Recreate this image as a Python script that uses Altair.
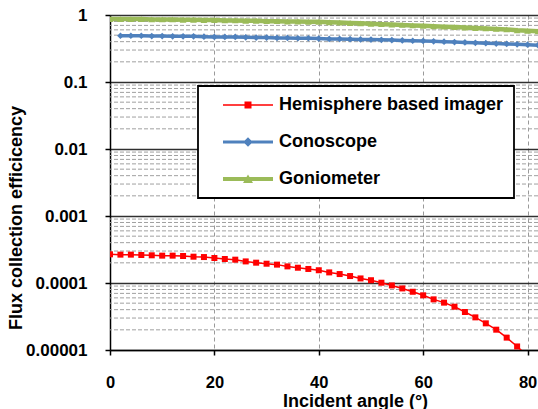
import altair as alt
import pandas as pd

# ---------------- data ----------------
series_names = ["Hemisphere based imager", "Conoscope", "Goniometer"]
series_colors = ["#ff0000", "#4f81bd", "#9bbb59"]

angles_red = list(range(0, 82, 2))          # 0 .. 80
hemisphere = [2.68e-4, 2.65e-4, 2.65e-4, 2.62e-4, 2.59e-4, 2.56e-4, 2.56e-4, 2.53e-4,
              2.47e-4, 2.44e-4, 2.36e-4, 2.28e-4, 2.23e-4, 2.10e-4, 2.01e-4, 1.94e-4,
              1.88e-4, 1.77e-4, 1.69e-4, 1.62e-4, 1.55e-4, 1.44e-4, 1.36e-4, 1.27e-4,
              1.17e-4, 1.10e-4, 1.01e-4, 0.92e-4, 0.83e-4, 0.74e-4, 0.655e-4, 0.570e-4,
              0.509e-4, 0.443e-4, 0.369e-4, 0.307e-4, 0.250e-4, 0.201e-4, 0.153e-4,
              0.113e-4, 0.081e-4]

angles_cono = list(range(2, 84, 2))         # 2 .. 82
conoscope = [0.49, 0.49, 0.49, 0.485, 0.485, 0.48, 0.48, 0.48, 0.475, 0.47,
             0.47, 0.47, 0.465, 0.46, 0.46, 0.455, 0.455, 0.45, 0.45, 0.445,
             0.44, 0.44, 0.435, 0.432, 0.43, 0.426, 0.422, 0.418, 0.413, 0.41,
             0.405, 0.40, 0.395, 0.39, 0.385, 0.38, 0.375, 0.37, 0.365, 0.36, 0.355]

angles_gonio = list(range(0, 84, 2))        # 0 .. 82
goniometer = [0.87, 0.87, 0.87, 0.87, 0.86, 0.86, 0.86, 0.85, 0.85, 0.84, 0.84,
              0.83, 0.83, 0.82, 0.82, 0.81, 0.81, 0.80, 0.80, 0.79, 0.79,
              0.78, 0.77, 0.76, 0.75, 0.74, 0.73, 0.72, 0.71, 0.70, 0.69,
              0.68, 0.67, 0.66, 0.65, 0.64, 0.63, 0.62, 0.61, 0.59, 0.58, 0.57]

x_ticks = [0, 20, 40, 60, 80]
y_tick_values = [1, 0.1, 0.01, 0.001, 0.0001, 0.00001]
y_tick_labels = ["1", "0.1", "0.01", "0.001", "0.0001", "0.00001"]
minor_grid = [m * d for d in [1e-5, 1e-4, 1e-3, 1e-2, 1e-1] for m in range(2, 10)]

# legend symbols: a line segment with the series' marker in the middle
legend_paths = [
    "M-5,-0.15L5,-0.15L5,0.15L-5,0.15Z M-0.7,-0.7L0.7,-0.7L0.7,0.7L-0.7,0.7Z",
    "M-5,-0.3L5,-0.3L5,0.3L-5,0.3Z M0,-0.95L0.95,0L0,0.95L-0.95,0Z",
    "M-5,-0.4L5,-0.4L5,0.4L-5,0.4Z M0,-0.9L1,0.8L-1,0.8Z",
]

FONT = "Liberation Sans"

# ---------------- scales & axes ----------------
label_expr = " : ".join(
    f"abs(datum.value - {v!r}) < {v * 1e-3!r} ? '{l}'" for v, l in zip(y_tick_values, y_tick_labels)
) + " : ''"

x_scale = alt.Scale(domain=[0, 82], nice=False, zero=False)
y_scale = alt.Scale(type="log", domain=[1e-5, 1], nice=False)

x_axis = alt.Axis(
    values=x_ticks, title="Incident angle (°)", grid=True, gridDash=[4, 3],
    gridColor="#9a9a9a", gridWidth=1, domainColor="black", domainWidth=1.5,
    tickColor="black", tickSize=5, tickWidth=1.5, labelFlush=False,
    labelFont=FONT, labelFontSize=16.5, labelFontWeight="bold", labelColor="black",
    labelPadding=19, titleFont=FONT, titleFontSize=18, titleFontWeight="bold",
    titleColor="black", titleX=245, titleY=56, titleBaseline="alphabetic",
)
y_axis = alt.Axis(
    values=y_tick_values, labelExpr=label_expr, title="Flux collection efficicency",
    grid=True, gridColor="#303030", gridWidth=1.5, domainColor="black", domainWidth=1.5,
    tickColor="black", tickSize=5, tickWidth=1.5,
    labelFont=FONT, labelFontSize=17, labelFontWeight="bold", labelColor="black",
    labelPadding=18, titleFont=FONT, titleFontSize=18, titleFontWeight="bold",
    titleColor="black", titleX=-93.5, titleY=202.5, titleAngle=270,
    titleBaseline="middle",
)

X = alt.X("angle:Q", scale=x_scale, axis=x_axis)
Y = alt.Y("eff:Q", scale=y_scale, axis=y_axis)

# ---------------- layers ----------------
df_minor = pd.DataFrame({"eff": minor_grid})
minor = alt.Chart(df_minor).mark_rule(
    color="#a0a0a0", strokeWidth=1, strokeDash=[4, 2]
).encode(y=Y)

def series(angles, vals, color, shape, size, width):
    df = pd.DataFrame({"angle": angles, "eff": vals})
    base = alt.Chart(df)
    line = base.mark_line(color=color, strokeWidth=width, clip=True).encode(x=X, y=Y)
    pts = base.mark_point(color=color, filled=True, shape=shape, size=size,
                          opacity=1, clip=True).encode(x=X, y=Y)
    return [line, pts]

layers = [minor]
layers += series(angles_gonio, goniometer, series_colors[2], "triangle-up", 45, 4.5)
layers += series(angles_cono, conoscope, series_colors[1], "diamond", 45, 3.5)
layers += series(angles_red, hemisphere, series_colors[0], "square", 36, 1.5)

df_leg = pd.DataFrame({
    "series": series_names,
    "angle": [angles_red[0], angles_cono[0], angles_gonio[0]],
    "eff": [hemisphere[0], conoscope[0], goniometer[0]],
})
leg = alt.Legend(
    title=None, orient="none", legendX=88, legendY=71, direction="vertical",
    labelFont=FONT, labelFontSize=18, labelFontWeight="bold", labelColor="black",
    labelLimit=400, symbolSize=100, symbolStrokeWidth=0, symbolOffset=31,
    labelOffset=22, rowPadding=19, padding=10, strokeColor="black",
    fillColor="white", symbolOpacity=1,
)
legend_layer = alt.Chart(df_leg).mark_point(filled=True, opacity=0, size=100).encode(
    x=X, y=Y,
    color=alt.Color("series:N", scale=alt.Scale(domain=series_names, range=series_colors), legend=leg, sort=series_names),
    shape=alt.Shape("series:N", scale=alt.Scale(domain=series_names, range=legend_paths), legend=leg, sort=series_names),
)
layers.append(legend_layer)

chart = alt.layer(*layers).properties(
    width=428, height=335,
    autosize=alt.AutoSizeParams(type="none"),
    padding={"left": 110, "top": 15, "right": 0, "bottom": 59},
    background="white",
).configure_view(stroke=None).configure_legend(strokeWidth=1.8)

chart.save("out.html", embed_options={"renderer": "svg", "actions": False})
